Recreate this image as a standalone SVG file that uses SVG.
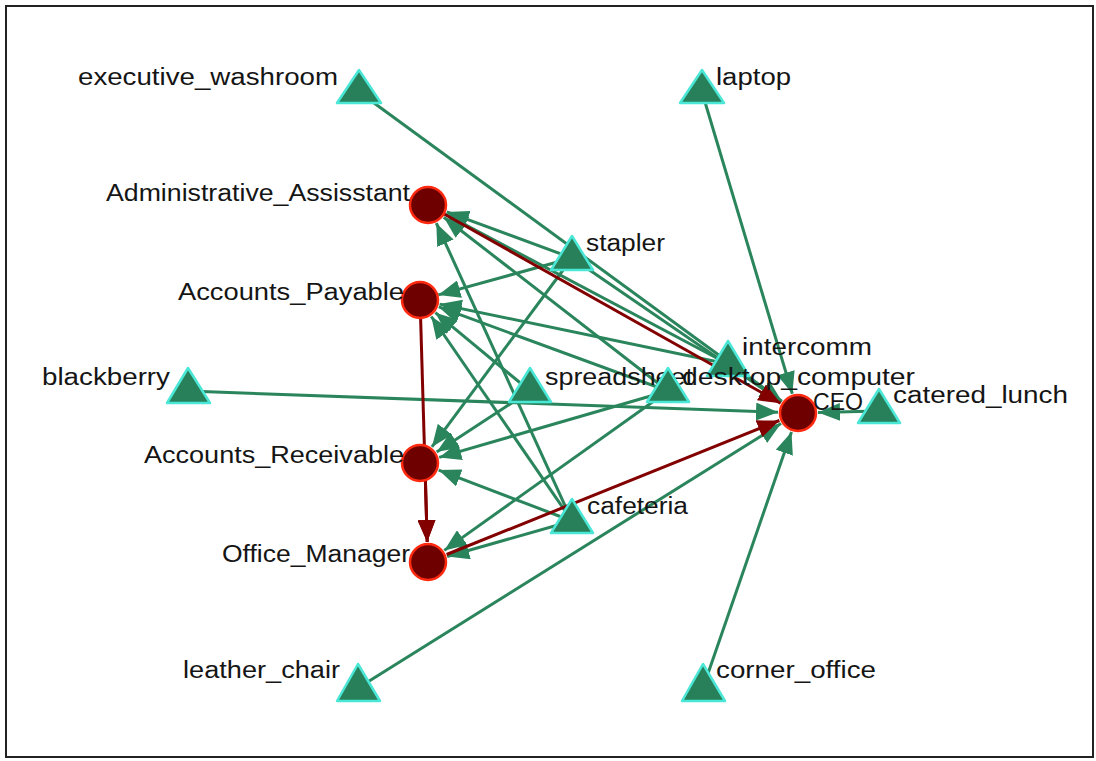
<svg xmlns="http://www.w3.org/2000/svg" width="1096" height="761" viewBox="0 0 1096 761">
<style>
.e{stroke:#2a855c;stroke-width:3;fill:none;marker-end:url(#ag)}
.r{stroke:#820000;stroke-width:3;fill:none;marker-end:url(#ar)}
.t{fill:#27805a;stroke:#4ae6d6;stroke-width:2.5;stroke-linejoin:round}
.c{fill:#6e0000;stroke:#ff2a10;stroke-width:2.5}
text{font-family:"Liberation Sans",Arial,sans-serif;font-size:23px;fill:#151515}
</style>
<defs>
<marker id="ag" markerUnits="userSpaceOnUse" markerWidth="22" markerHeight="18" viewBox="0 0 22 18" refX="22" refY="9" orient="auto"><path d="M0,0 L22,9 L0,18 z" fill="#2a855c"/></marker>
<marker id="ar" markerUnits="userSpaceOnUse" markerWidth="22" markerHeight="18" viewBox="0 0 22 18" refX="22" refY="9" orient="auto"><path d="M0,0 L22,9 L0,18 z" fill="#820000"/></marker>
</defs>
<rect x="0" y="0" width="1096" height="761" fill="#ffffff"/>
<rect x="6" y="6" width="1087" height="751" fill="none" stroke="#222" stroke-width="2"/>
<g id="connectors">
<line class="e" x1="359" y1="92" x2="781.9" y2="401.2"/>
<line class="e" x1="702" y1="92" x2="792.3" y2="393.8"/>
<line class="e" x1="188" y1="391" x2="778" y2="412.3"/>
<line class="e" x1="358" y1="688" x2="781" y2="423.6"/>
<line class="e" x1="703" y1="688" x2="791.5" y2="431.9"/>
<line class="e" x1="879" y1="411" x2="818" y2="412.5"/>
<line class="e" x1="572" y1="258" x2="781.5" y2="401.7"/>
<line class="e" x1="572" y1="258" x2="446.8" y2="211.9"/>
<line class="e" x1="728" y1="364" x2="445.7" y2="214.4"/>
<line class="e" x1="668" y1="391" x2="443.8" y2="217.2"/>
<line class="e" x1="572" y1="521" x2="436.3" y2="223.2"/>
<line class="e" x1="572" y1="258" x2="438.3" y2="294.9"/>
<line class="e" x1="572" y1="521" x2="431.3" y2="316.5"/>
<line class="e" x1="728" y1="364" x2="439.6" y2="304.1"/>
<line class="e" x1="668" y1="391" x2="438.8" y2="306.9"/>
<line class="e" x1="530" y1="391" x2="435.4" y2="312.7"/>
<line class="e" x1="572" y1="258" x2="431.9" y2="446.9"/>
<line class="e" x1="530" y1="391" x2="436.7" y2="452"/>
<line class="e" x1="668" y1="391" x2="439.2" y2="457.4"/>
<line class="e" x1="572" y1="521" x2="438.7" y2="470.1"/>
<line class="e" x1="668" y1="391" x2="444.3" y2="550.4"/>
<line class="e" x1="572" y1="521" x2="447.2" y2="556.5"/>
<line class="r" x1="443.7" y1="213.8" x2="780.6" y2="403.2"/>
<line class="r" x1="446.6" y1="554.5" x2="779.4" y2="420.5"/>
<line class="r" x1="420.6" y1="318" x2="427.2" y2="542"/>
<line class="r" x1="425.4" y1="480" x2="427.2" y2="542"/>
</g>
<g id="executive_washroom"><polygon class="t" points="359,70 337,103 381,103"/><text x="78" y="85" textLength="260" lengthAdjust="spacingAndGlyphs">executive_washroom</text></g>
<g id="laptop"><polygon class="t" points="702,70 680,103 724,103"/><text x="716" y="85" textLength="75" lengthAdjust="spacingAndGlyphs">laptop</text></g>
<g id="blackberry"><polygon class="t" points="188,368 167,403 210,403"/><text x="42" y="385" textLength="128" lengthAdjust="spacingAndGlyphs">blackberry</text></g>
<g id="leather_chair"><polygon class="t" points="358,664 337,701 380,701"/><text x="183" y="678" textLength="157" lengthAdjust="spacingAndGlyphs">leather_chair</text></g>
<g id="corner_office"><polygon class="t" points="703,664 682,701 725,701"/><text x="716" y="678" textLength="160" lengthAdjust="spacingAndGlyphs">corner_office</text></g>
<g id="stapler"><polygon class="t" points="572,236 551,270 593,270"/><text x="586" y="251" textLength="79" lengthAdjust="spacingAndGlyphs">stapler</text></g>
<g id="spreadsheet"><polygon class="t" points="530,368 509,402 551,402"/><text x="545" y="385" textLength="148" lengthAdjust="spacingAndGlyphs">spreadsheet</text></g>
<g id="cafeteria"><polygon class="t" points="572,499 551,533 593,533"/><text x="587" y="514" textLength="101" lengthAdjust="spacingAndGlyphs">cafeteria</text></g>
<g id="intercomm"><polygon class="t" points="728,341 707,376 749,376"/><text x="742" y="355" textLength="130" lengthAdjust="spacingAndGlyphs">intercomm</text></g>
<g id="desktop_computer"><polygon class="t" points="668,368 647,402 689,402"/><text x="682" y="385" textLength="233" lengthAdjust="spacingAndGlyphs">desktop_computer</text></g>
<g id="catered_lunch"><polygon class="t" points="879,389 858,423 900,423"/><text x="893" y="403" textLength="175" lengthAdjust="spacingAndGlyphs">catered_lunch</text></g>
<g id="Administrative_Assisstant"><circle class="c" cx="428" cy="205" r="18"/><text x="106" y="201" textLength="304" lengthAdjust="spacingAndGlyphs">Administrative_Assisstant</text></g>
<g id="Accounts_Payable"><circle class="c" cx="420" cy="300" r="18"/><text x="178" y="300" textLength="226" lengthAdjust="spacingAndGlyphs">Accounts_Payable</text></g>
<g id="Accounts_Receivable"><circle class="c" cx="420" cy="463" r="18"/><text x="144" y="463" textLength="260" lengthAdjust="spacingAndGlyphs">Accounts_Receivable</text></g>
<g id="Office_Manager"><circle class="c" cx="428" cy="562" r="18"/><text x="222" y="562" textLength="188" lengthAdjust="spacingAndGlyphs">Office_Manager</text></g>
<g id="CEO"><circle class="c" cx="798" cy="413" r="18"/><text x="813" y="410" textLength="50" lengthAdjust="spacingAndGlyphs">CEO</text></g>
</svg>
